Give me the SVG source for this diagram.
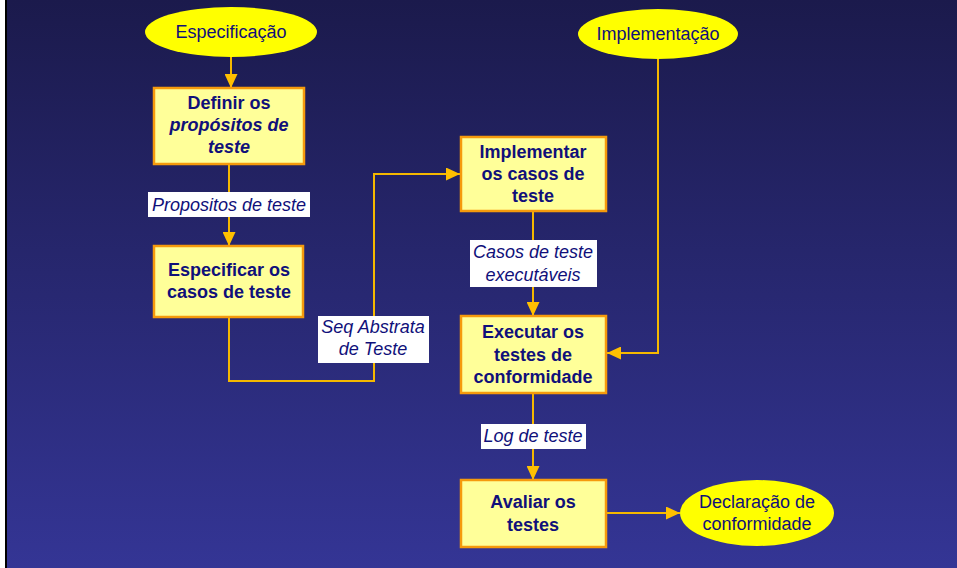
<svg xmlns="http://www.w3.org/2000/svg" width="957" height="568" viewBox="0 0 957 568">
<defs>
<linearGradient id="bg" x1="0" y1="0" x2="0" y2="1">
<stop offset="0" stop-color="#1b1a4c"/>
<stop offset="1" stop-color="#343595"/>
</linearGradient>
<marker id="ah" markerWidth="14" markerHeight="13" refX="14" refY="6.5" orient="auto" markerUnits="userSpaceOnUse">
<path d="M0,0 L14,6.5 L0,13 Z" fill="#ffc000"/>
</marker>
<style>
.box{fill:#ffff99;stroke:#f59a0c;stroke-width:2.5}
.ell{fill:#ffff00}
.bt{font-family:"Liberation Sans",Arial,sans-serif;font-size:18px;font-weight:bold;fill:#10107a;text-anchor:middle}
.et{font-family:"Liberation Sans",Arial,sans-serif;font-size:18px;fill:#10107a;text-anchor:middle}
.lt{font-family:"Liberation Sans",Arial,sans-serif;font-size:18px;font-style:italic;fill:#10107a;text-anchor:middle}
.lb{fill:#ffffff}
.c{fill:none;stroke:#f5b800;stroke-width:2}
</style>
</defs>
<rect x="0" y="0" width="957" height="568" fill="url(#bg)"/>
<rect x="0" y="0" width="5" height="568" fill="#ffffff"/>
<rect x="5" y="0" width="2" height="568" fill="#000000"/>

<g id="connectors">
<path class="c" d="M231,57 V88" marker-end="url(#ah)"/>
<path class="c" d="M229,164 V246" marker-end="url(#ah)"/>
<path class="c" d="M229,317 V381 H374 V174 H460" marker-end="url(#ah)"/>
<path class="c" d="M533,211 V316" marker-end="url(#ah)"/>
<path class="c" d="M658,59 V353 H607" marker-end="url(#ah)"/>
<path class="c" d="M533,393 V480" marker-end="url(#ah)"/>
<path class="c" d="M606,513 H680" marker-end="url(#ah)"/>
</g>

<g id="label-propositos">
<rect class="lb" x="148" y="192" width="162" height="25"/>
<text class="lt" x="229" y="211">Propositos de teste</text>
</g>
<g id="label-seq">
<rect class="lb" x="318" y="316" width="111" height="47"/>
<text class="lt" x="373" y="333">Seq Abstrata</text>
<text class="lt" x="373" y="355">de Teste</text>
</g>
<g id="label-casos">
<rect class="lb" x="470" y="240" width="127" height="47"/>
<text class="lt" x="533" y="258">Casos de teste</text>
<text class="lt" x="533" y="281">executáveis</text>
</g>
<g id="label-log">
<rect class="lb" x="481" y="424" width="105" height="25"/>
<text class="lt" x="533" y="442">Log de teste</text>
</g>

<g id="especificacao">
<ellipse class="ell" cx="231" cy="32" rx="86" ry="25"/>
<text class="et" x="231" y="38">Especificação</text>
</g>
<g id="implementacao">
<ellipse class="ell" cx="658" cy="34" rx="80" ry="25"/>
<text class="et" x="658" y="40">Implementação</text>
</g>
<g id="declaracao">
<ellipse class="ell" cx="757" cy="513" rx="77" ry="33"/>
<text class="et" x="757" y="508">Declaração de</text>
<text class="et" x="757" y="530">conformidade</text>
</g>

<g id="definir">
<rect class="box" x="154" y="88" width="150" height="76"/>
<text class="bt" x="229" y="109">Definir os</text>
<text class="bt" x="229" y="131" font-style="italic">propósitos de</text>
<text class="bt" x="229" y="153" font-style="italic">teste</text>
</g>
<g id="especificar">
<rect class="box" x="154" y="246" width="149" height="71"/>
<text class="bt" x="229" y="276">Especificar os</text>
<text class="bt" x="229" y="298">casos de teste</text>
</g>
<g id="implementar">
<rect class="box" x="461" y="137" width="145" height="74"/>
<text class="bt" x="533" y="158">Implementar</text>
<text class="bt" x="533" y="180">os casos de</text>
<text class="bt" x="533" y="202">teste</text>
</g>
<g id="executar">
<rect class="box" x="461" y="316" width="145" height="77"/>
<text class="bt" x="533" y="338">Executar os</text>
<text class="bt" x="533" y="361">testes de</text>
<text class="bt" x="533" y="383">conformidade</text>
</g>
<g id="avaliar">
<rect class="box" x="461" y="480" width="145" height="67"/>
<text class="bt" x="533" y="508">Avaliar os</text>
<text class="bt" x="533" y="531">testes</text>
</g>
</svg>
